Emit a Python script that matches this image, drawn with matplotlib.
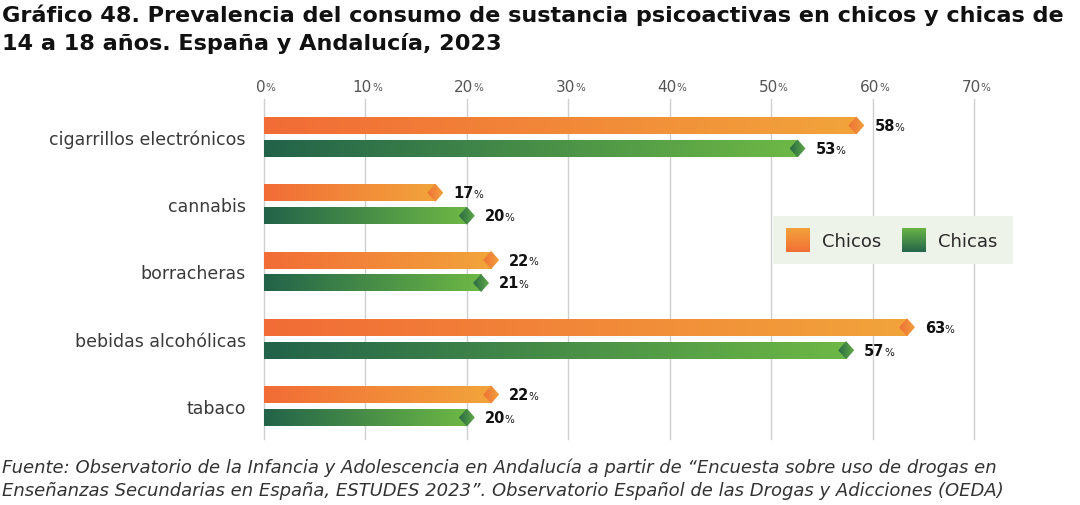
import numpy as np
import matplotlib
matplotlib.use("Agg")
import matplotlib.pyplot as plt
from matplotlib.colors import LinearSegmentedColormap
from matplotlib.patches import Polygon

# data
categories = ["cigarrillos electrónicos", "cannabis", "borracheras",
              "bebidas alcohólicas", "tabaco"]
chicos = [58.4, 16.9, 22.4, 63.4, 22.4]
chicas = [52.6, 20.0, 21.4, 57.4, 20.0]
ticks = [0, 10, 20, 30, 40, 50, 60, 70]
series_names = ["Chicos", "Chicas"]

title = ("Gráfico 48. Prevalencia del consumo de sustancia psicoactivas en chicos y chicas de\n"
         "14 a 18 años. España y Andalucía, 2023")
source = ("Fuente: Observatorio de la Infancia y Adolescencia en Andalucía a partir de “Encuesta sobre uso de drogas en\n"
          "Enseñanzas Secundarias en España, ESTUDES 2023”. Observatorio Español de las Drogas y Adicciones (OEDA)")

plt.rcParams['font.family'] = ['DejaVu Sans']

orange_bar = LinearSegmentedColormap.from_list("ob", ["#F26C36", "#F1A43B"])
green_bar = LinearSegmentedColormap.from_list("gb", ["#22634A", "#6DB845"])
orange_dia = LinearSegmentedColormap.from_list("od", ["#EE6F36", "#F3A13D"])
green_dia = LinearSegmentedColormap.from_list("gd", ["#2A6A46", "#5FAA45"])

grad = np.linspace(0, 1, 256).reshape(1, -1)


def gradient_fill(ax, x0, x1, y0, y1, cmap, clip=None, z=3):
    im = ax.imshow(grad, extent=(x0, x1, y1, y0), aspect='auto', cmap=cmap,
                   interpolation='bicubic', zorder=z)
    if clip is not None:
        ax.add_patch(clip)
        clip.set_visible(False)
        im.set_clip_path(clip)
    return im


fig = plt.figure(figsize=(10.8, 5.06), dpi=100)
ax = fig.add_axes([264 / 1080, 66 / 506, 710 / 1080, 340 / 506])

px_x = 70 / 710.0          # data units per pixel (x)
px_y = 1 / 67.3            # data units per pixel (y)
bar_h = 17 * px_y
off = 11.5 * px_y
dw = 8 * px_x
dh = 9 * px_y

for i, cat in enumerate(categories):
    for vals, bcm, dcm, sign in ((chicos, orange_bar, orange_dia, -1),
                                 (chicas, green_bar, green_dia, 1)):
        v = vals[i]
        yc = i + sign * off
        gradient_fill(ax, 0, v, yc - bar_h / 2, yc + bar_h / 2, bcm)
        dia = Polygon([(v - dw, yc), (v, yc - dh), (v + dw, yc), (v, yc + dh)],
                      closed=True, transform=ax.transData)
        gradient_fill(ax, v - dw, v + dw, yc - dh, yc + dh, dcm, clip=dia, z=4)
        num = ax.annotate(f"{round(v)}", xy=(v, yc), xytext=(18 * 0.72, 0),
                          textcoords='offset points', ha='left', va='center',
                          fontsize=10.5, fontweight='bold', color='#111111')
        ax.annotate("%", xy=(1, 0.08), xycoords=num, xytext=(-0.5, 0),
                    textcoords='offset points', ha='left', va='bottom',
                    fontsize=7.5, color='#111111')

# grid
for t in ticks:
    ax.axvline(t, color='#cfcfcf', lw=1, zorder=1, clip_on=False)
    num = ax.annotate(f"{t}", xy=(t, 1), xycoords=('data', 'axes fraction'),
                      xytext=(-3 * 0.72, 13 * 0.72), textcoords='offset points',
                      ha='center', va='center', fontsize=11, color='#555555')
    ax.annotate("%", xy=(1, 0.12), xycoords=num, xytext=(0, 0),
                textcoords='offset points', ha='left', va='bottom',
                fontsize=7.5, color='#555555')

ax.set_xlim(0, 70)
ax.set_ylim(4 + 33 * px_y, -38 * px_y)
ax.set_xticks([])
ax.set_yticks(range(len(categories)))
ax.set_yticklabels(categories, fontsize=12.5, color='#3a3a3a')
ax.tick_params(axis='y', length=0, pad=13)
for s in ax.spines.values():
    s.set_visible(False)

# legend box
lax = fig.add_axes([773 / 1080, (506 - 265) / 506, 240 / 1080, 48 / 506])
lax.set_facecolor('#EEF3EA')
vgrad = np.linspace(0, 1, 256).reshape(-1, 1)
leg_orange = LinearSegmentedColormap.from_list("lo", ["#F2A33B", "#F26E36"])
leg_green = LinearSegmentedColormap.from_list("lg", ["#69B445", "#25654A"])
for x0, cm, name in ((13, leg_orange, series_names[0]), (129, leg_green, series_names[1])):
    lax.imshow(vgrad, extent=(x0, x0 + 24, 36, 12), aspect='auto', cmap=cm,
               interpolation='bicubic')
    lax.text(x0 + 36, 25, name, ha='left', va='center', fontsize=13, color='#2a2a2a')
lax.set_xlim(0, 240)
lax.set_ylim(48, 0)
lax.set_xticks([])
lax.set_yticks([])
for s in lax.spines.values():
    s.set_visible(False)

fig.text(0.002, 1 - 4 / 506, title, ha='left', va='top', fontsize=16.1,
         fontweight='bold', color='#111111', linespacing=1.45)
fig.text(0.002, 1 - 459 / 506, source, ha='left', va='top', fontsize=13,
         style='italic', color='#333333', linespacing=1.3)

fig.savefig("out.png", dpi=100)
